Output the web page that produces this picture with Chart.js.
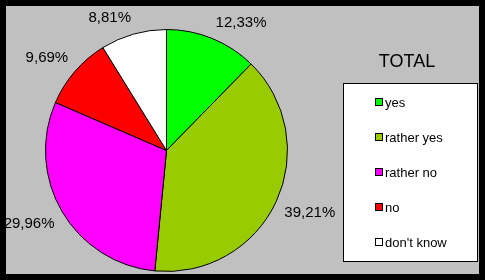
<!DOCTYPE html>
<html>
<head>
<meta charset="utf-8">
<script src="https://cdn.jsdelivr.net/npm/chart.js@4"></script>
<style>
  html, body { margin: 0; padding: 0; background: #000; }
  #frame { position: absolute; left: 6px; top: 6px; width: 473px; height: 268px; background: #c0c0c0; }
  #chart { position: absolute; left: 0; top: 0; }
</style>
</head>
<body>
<div id="frame"></div>
<canvas id="chart" width="485" height="280"></canvas>
<script>
// data
const categories = ["yes", "rather yes", "rather no", "no", "don't know"];
const values = [12.33, 39.21, 29.96, 9.69, 8.81];
const colors = ["#00ff00", "#99cc00", "#ff00ff", "#ff0000", "#ffffff"];
const chartTitle = "TOTAL";

const FONT = "'Liberation Sans', Arial, sans-serif";

function formatPct(v) {
  return v.toFixed(2).replace(".", ",") + "%";
}

// ===== percentage labels outside the slices =====
const outsideLabels = {
  id: "outsideLabels",
  afterDatasetsDraw(chart) {
    const ctx = chart.ctx;
    const meta = chart.getDatasetMeta(0);
    ctx.save();
    ctx.font = "15px " + FONT;
    ctx.fillStyle = "#000";
    meta.data.forEach((arc, i) => {
      const p = arc.getProps(["x", "y", "startAngle", "endAngle", "outerRadius"], true);
      const mid = (p.startAngle + p.endAngle) / 2;
      const r = p.outerRadius + 9;
      const x = p.x + Math.cos(mid) * r;
      const y = p.y + Math.sin(mid) * r;
      ctx.textAlign = Math.cos(mid) >= 0 ? "left" : "right";
      ctx.textBaseline = Math.sin(mid) < 0 ? "bottom" : "top";
      ctx.fillText(formatPct(values[i]), x, y);
    });
    ctx.restore();
  }
};

// ===== boxed legend with title =====
const boxLegend = {
  id: "boxLegend",
  afterDraw(chart) {
    const ctx = chart.ctx;
    ctx.save();
    ctx.font = "18px " + FONT;
    ctx.fillStyle = "#000";
    ctx.textAlign = "center";
    ctx.textBaseline = "middle";
    ctx.fillText(chartTitle, 407, 62);

    ctx.fillStyle = "#fff";
    ctx.fillRect(343, 83, 134, 178);
    ctx.strokeStyle = "#000";
    ctx.lineWidth = 1;
    ctx.strokeRect(343.5, 83.5, 134, 178);

    ctx.font = "13px " + FONT;
    ctx.textAlign = "left";
    categories.forEach((c, i) => {
      const y = 102 + i * 35;
      ctx.fillStyle = colors[i];
      ctx.fillRect(375, y - 3, 7, 7);
      ctx.strokeRect(375.5, y - 3.5, 7, 7);
      ctx.fillStyle = "#000";
      ctx.fillText(c, 385, y + 1);
    });
    ctx.restore();
  }
};

new Chart(document.getElementById("chart"), {
  type: "pie",
  data: {
    labels: categories,
    datasets: [{
      data: values,
      backgroundColor: colors,
      borderColor: "#000",
      borderWidth: 1
    }]
  },
  options: {
    responsive: false,
    animation: false,
    layout: { padding: { left: 45, right: 197, top: 29, bottom: 8 } },
    plugins: {
      legend: { display: false },
      tooltip: { enabled: false }
    }
  },
  plugins: [outsideLabels, boxLegend]
});
</script>
</body>
</html>
